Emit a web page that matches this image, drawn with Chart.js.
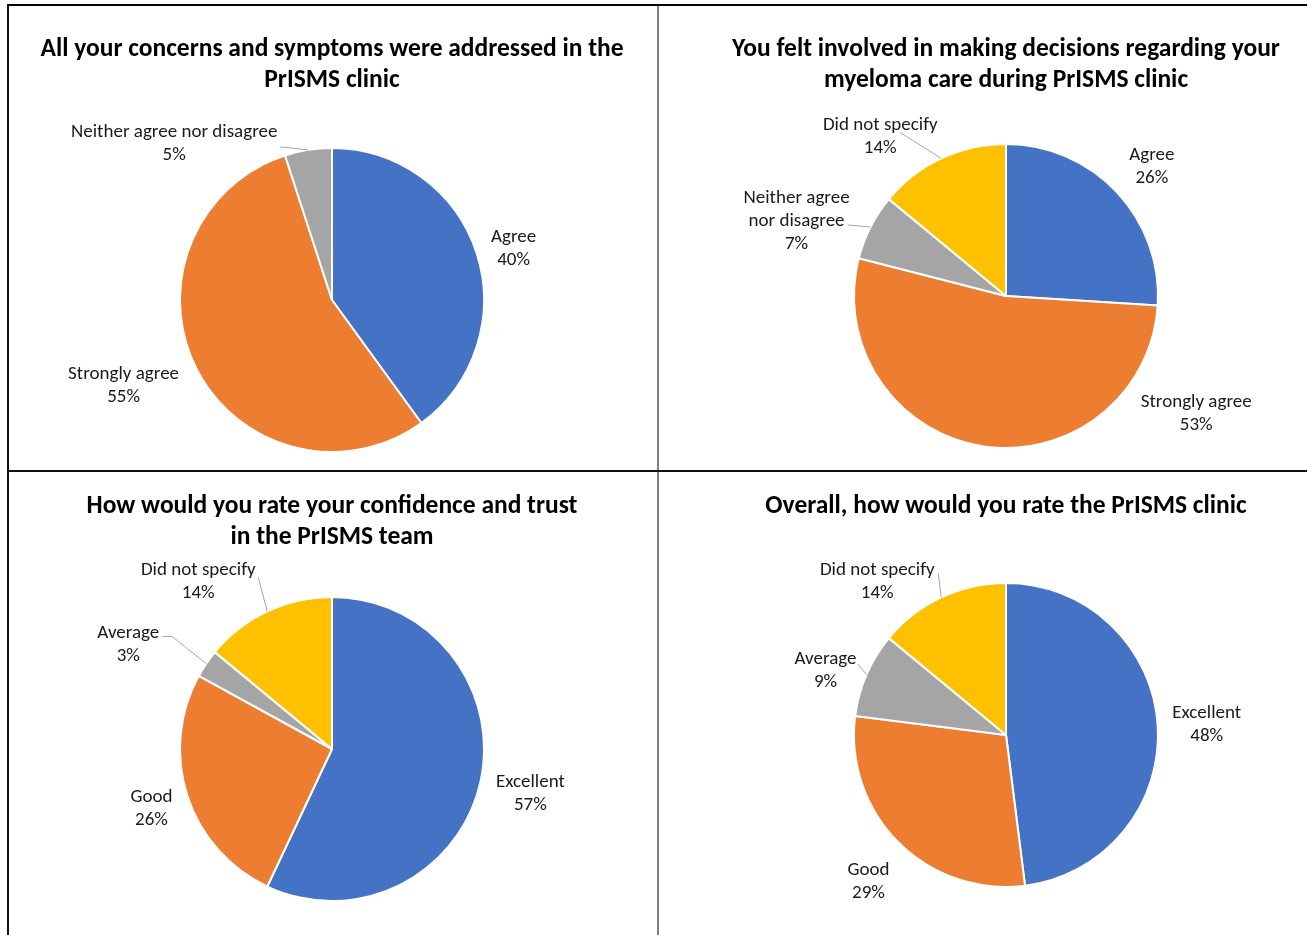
<!DOCTYPE html>
<html>
<head>
<meta charset="utf-8">
<script src="https://cdn.jsdelivr.net/npm/chart.js@4.4.0/dist/chart.umd.min.js"></script>
<style>
  html, body { margin: 0; padding: 0; background: #fff; overflow: hidden; width: 1307px; height: 935px; }
  canvas { position: absolute; }
  .rule { position: absolute; }
</style>
</head>
<body>
<canvas id="c1" width="640" height="470" style="left:12px;top:0px"></canvas>
<canvas id="c2" width="640" height="470" style="left:686px;top:0px"></canvas>
<canvas id="c3" width="640" height="465" style="left:12px;top:470px"></canvas>
<canvas id="c4" width="640" height="465" style="left:686px;top:470px"></canvas>

<div class="rule" style="left:7px;top:4px;width:1300px;height:2px;background:#000"></div>
<div class="rule" style="left:7px;top:4px;width:2px;height:931px;background:#111"></div>
<div class="rule" style="left:657px;top:6px;width:2px;height:929px;background:#808080"></div>
<div class="rule" style="left:8px;top:470px;width:1299px;height:2px;background:#111"></div>

<script>
// ---- data ----
const q1Title = ["All your concerns and symptoms were addressed in the", "PrISMS clinic"];
const q1Categories = ["Agree", "Strongly agree", "Neither agree nor disagree"];
const q1Values = [40, 55, 5];

const q2Title = ["You felt involved in making decisions regarding your", "myeloma care during PrISMS clinic"];
const q2Categories = ["Agree", "Strongly agree", "Neither agree nor disagree", "Did not specify"];
const q2Values = [26, 53, 7, 14];

const q3Title = ["How would you rate your confidence and trust", "in the PrISMS team"];
const q3Categories = ["Excellent", "Good", "Average", "Did not specify"];
const q3Values = [57, 26, 3, 14];

const q4Title = ["Overall, how would you rate the PrISMS clinic"];
const q4Categories = ["Excellent", "Good", "Average", "Did not specify"];
const q4Values = [48, 29, 9, 14];

// ---- styles ----
const sliceColors = ["#4472C4", "#ED7D31", "#A5A5A5", "#FFC000"];
const fontFamily = "Carlito, Calibri, Lato, 'Noto Sans', sans-serif";
const textShift = 3; // Lato sits a bit high with a "middle" baseline

// label placement relative to the outer middle of each slice
const q1Layout = {
  padding: { top: 0, bottom: 17, left: 0, right: 0 },
  titlePad: { top: 34.5, bottom: 50.5 },
  labels: [
    { dx: 37, dy: -7 },
    { dx: -73, dy: 14 },
    { dx: -134, dy: -9, leader: [[106, 6]] },
  ],
};
const q2Layout = {
  padding: { top: 0, bottom: 21, left: 0, right: 0 },
  titlePad: { top: 34.5, bottom: 46.5 },
  labels: [
    { dx: 35, dy: -28 },
    { dx: 214, dy: -35 },
    { dx: -74, dy: -9, lines: ["Neither agree", "nor disagree"], leader: [[51, 7]] },
    { dx: -61, dy: -25, leader: [[20, -1]] },
  ],
};
const q3Layout = {
  padding: { top: 0, bottom: 33, left: 0, right: 0 },
  titlePad: { top: 21.5, bottom: 42.5 },
  labels: [
    { dx: 50, dy: 9 },
    { dx: -36, dy: 10 },
    { dx: -78, dy: -22, leader: [[34, -5], [44, -5]] },
    { dx: -69, dy: -33, leader: [[60, -1]] },
  ],
};
const q4Layout = {
  padding: { top: 0, bottom: 47, left: 0, right: 0 },
  titlePad: { top: 21.5, bottom: 59.5 },
  labels: [
    { dx: 49, dy: -4 },
    { dx: -30, dy: 36 },
    { dx: -41, dy: -7, leader: [[32, -4]] },
    { dx: -64, dy: -19, leader: [[61, -5]] },
  ],
};

// draws "Category / xx%" labels outside the pie, with optional leader lines
function labelPlugin(layout) {
  return {
    id: "pieLabels",
    afterDatasetsDraw(chart) {
      const ctx = chart.ctx;
      const meta = chart.getDatasetMeta(0);
      const values = chart.data.datasets[0].data;
      ctx.save();
      ctx.font = "19px " + fontFamily;
      ctx.textAlign = "center";
      ctx.textBaseline = "middle";
      meta.data.forEach((arc, i) => {
        const p = arc.getProps(["x", "y", "startAngle", "endAngle", "outerRadius"], true);
        const mid = (p.startAngle + p.endAngle) / 2;
        const ax = p.x + Math.cos(mid) * p.outerRadius;
        const ay = p.y + Math.sin(mid) * p.outerRadius;
        const cfg = layout.labels[i];
        const lx = ax + cfg.dx;
        const ly = ay + cfg.dy;

        if (cfg.leader) {
          ctx.strokeStyle = "#A6A6A6";
          ctx.lineWidth = 1;
          ctx.beginPath();
          cfg.leader.forEach(([ox, oy], k) => {
            if (k === 0) ctx.moveTo(lx + ox, ly + oy);
            else ctx.lineTo(lx + ox, ly + oy);
          });
          ctx.lineTo(ax, ay);
          ctx.stroke();
        }

        const lines = (cfg.lines || [chart.data.labels[i]]).concat([values[i] + "%"]);
        ctx.fillStyle = "#1a1a1a";
        lines.forEach((t, k) => {
          ctx.fillText(t, lx, ly + textShift + (k - (lines.length - 1) / 2) * 23);
        });
      });
      ctx.restore();
    },
  };
}

function makePie(id, title, categories, values, layout) {
  new Chart(document.getElementById(id), {
    type: "pie",
    data: {
      labels: categories,
      datasets: [
        {
          data: values,
          backgroundColor: sliceColors.slice(0, values.length),
          borderColor: "#ffffff",
          borderWidth: 2,
        },
      ],
    },
    options: {
      responsive: false,
      animation: false,
      layout: { padding: layout.padding },
      plugins: {
        legend: { display: false },
        tooltip: { enabled: false },
        title: {
          display: true,
          text: title,
          color: "#000",
          font: { family: fontFamily, size: 25.5, weight: "bold", lineHeight: 31 / 25.5 },
          padding: layout.titlePad,
        },
      },
    },
    plugins: [labelPlugin(layout)],
  });
}

makePie("c1", q1Title, q1Categories, q1Values, q1Layout);
makePie("c2", q2Title, q2Categories, q2Values, q2Layout);
makePie("c3", q3Title, q3Categories, q3Values, q3Layout);
makePie("c4", q4Title, q4Categories, q4Values, q4Layout);
</script>
</body>
</html>
